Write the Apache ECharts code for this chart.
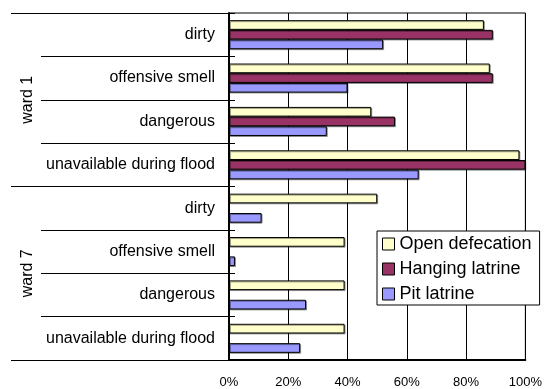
<!DOCTYPE html>
<html>
<head>
<meta charset="utf-8">
<script src="https://cdn.jsdelivr.net/npm/echarts@6/dist/echarts.min.js"></script>
<style>html,body{margin:0;padding:0;background:#fff;}#c{width:545px;height:389px;}</style>
</head>
<body>
<div id="c"></div>
<script>
var categories = ['dirty', 'offensive smell', 'dangerous', 'unavailable during flood',
                  'dirty', 'offensive smell', 'dangerous', 'unavailable during flood'];
var groups = ['ward 1', 'ward 7'];
var openDefecation = [86, 88, 48, 98, 50, 39, 39, 39];
var hangingLatrine = [89, 89, 56, 100, null, null, null, null];
var pitLatrine = [52, 40, 33, 64, 11, 2, 26, 24];
var seriesNames = ['Open defecation', 'Hanging latrine', 'Pit latrine'];
var xTicks = [0, 20, 40, 60, 80, 100];

var chart = echarts.init(document.getElementById('c'), null, {renderer: 'canvas'});
var font = 'Liberation Sans, Arial, sans-serif';
function barSeries(name, data, color) {
  return {
    name: name, type: 'bar', data: data, yAxisIndex: 0,
    barGap: '0%', barCategoryGap: '33%',
    itemStyle: {color: color, borderColor: '#000', borderWidth: 1,
      shadowColor: 'rgba(0,0,0,0.35)', shadowOffsetX: 1, shadowOffsetY: 1, shadowBlur: 0}
  };
}
var catIds = categories.map(function (c, i) { return i; });
chart.setOption({
  animation: false,
  backgroundColor: '#fff',
  textStyle: {fontFamily: font},
  grid: {left: 229, right: 15, top: 13, bottom: 29, show: true, borderColor: '#000', borderWidth: 1, backgroundColor: 'transparent'},
  legend: {
    data: seriesNames, orient: 'vertical', left: 377, top: 231,
    itemWidth: 12, itemHeight: 12, itemGap: 7, padding: [4, 8, 2, 5],
    backgroundColor: '#fff', borderColor: '#000', borderWidth: 1,
    icon: 'rect',
    itemStyle: {borderColor: '#000', borderWidth: 1, shadowBlur: 0, shadowOffsetX: 0, shadowOffsetY: 0},
    textStyle: {fontSize: 18, color: '#000', fontFamily: font}
  },
  xAxis: {
    type: 'value', min: 0, max: 100, interval: 20,
    axisLine: {show: true, lineStyle: {color: '#000', width: 2}},
    axisTick: {show: false},
    splitLine: {show: true, lineStyle: {color: '#000', width: 1}},
    axisLabel: {formatter: function (v) { return xTicks.indexOf(v) >= 0 ? v + '%' : ''; }, fontSize: 13, color: '#000', margin: 16, fontFamily: font}
  },
  yAxis: [
    {
      type: 'category', data: catIds, inverse: true, position: 'left',
      axisLine: {show: true, lineStyle: {color: '#000', width: 2}},
      axisTick: {show: true, inside: true, length: 6, lineStyle: {color: '#000'}},
      axisLabel: {formatter: function (v) { return categories[+v]; }, fontSize: 16, color: '#000', margin: 14, fontFamily: font},
      splitLine: {show: false}
    },
    {
      type: 'category', data: catIds, inverse: true, position: 'left',
      axisLine: {show: false},
      axisTick: {show: true, length: 188, lineStyle: {color: '#000'}},
      axisLabel: {show: false}
    },
    {
      type: 'category', data: groups, inverse: true, position: 'left',
      axisLine: {show: false},
      axisTick: {show: true, length: 218, lineStyle: {color: '#000'}},
      axisLabel: {show: true, rotate: 90, fontSize: 16, color: '#000', margin: 193, fontFamily: font}
    }
  ],
  series: [
    barSeries(seriesNames[0], openDefecation, '#FFFFCC'),
    barSeries(seriesNames[1], hangingLatrine, '#993366'),
    barSeries(seriesNames[2], pitLatrine, '#9999FF')
  ]
});
</script>
</body>
</html>
